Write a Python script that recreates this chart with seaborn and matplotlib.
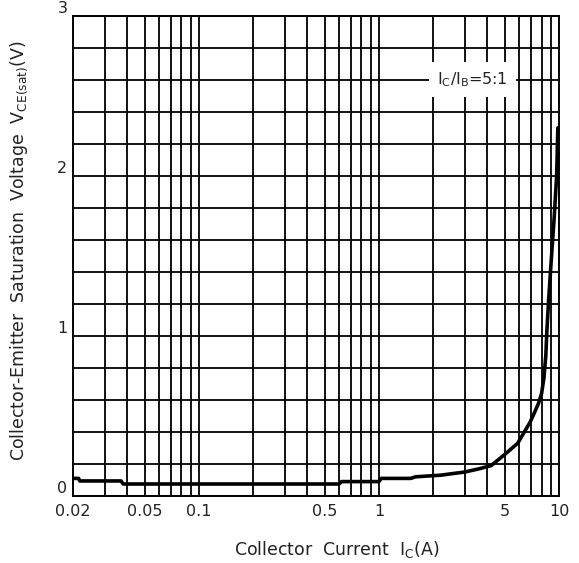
import seaborn as sns
import pandas as pd
import matplotlib.pyplot as plt
import numpy as np

# curve
ic_amp = [0.02, 0.0215, 0.0218, 0.037, 0.038, 0.6, 0.62, 1.0, 1.03, 1.5, 1.6,
          2.2, 3.0, 3.6, 4.2, 5.0, 5.9, 6.9, 7.3, 7.7, 8.0, 8.25, 8.45, 8.55,
          8.75, 9.05, 9.4, 9.7, 9.85]
vce_sat = [0.11, 0.11, 0.094, 0.094, 0.075, 0.075, 0.09, 0.09, 0.11, 0.11, 0.12,
           0.13, 0.15, 0.17, 0.19, 0.26, 0.33, 0.46, 0.52, 0.58, 0.64, 0.74, 0.88,
           1.02, 1.22, 1.47, 1.74, 2.0, 2.3]

x_grid = [0.02, 0.03, 0.04, 0.05, 0.06, 0.07, 0.08, 0.09,
          0.1, 0.2, 0.3, 0.4, 0.5, 0.6, 0.7, 0.8, 0.9,
          1, 2, 3, 4, 5, 6, 7, 8, 9, 10]
x_labels = {0.02: '0.02', 0.05: '0.05', 0.1: '0.1', 0.5: '0.5', 1: '1', 5: '5', 10: '10'}
y_grid = [round(0.2 * i, 1) for i in range(16)]
y_labels = {0.0: '0', 1.0: '1', 2.0: '2', 3.0: '3'}

sns.set_style('white')
plt.rcParams['font.family'] = ['DejaVu Sans']

df = pd.DataFrame({'Ic': ic_amp, 'Vce': vce_sat})

fig = plt.figure(figsize=(5.79, 5.63), dpi=100)
ax = fig.add_axes([0.126, 0.119, 0.8395, 0.853])

sns.lineplot(data=df, x='Ic', y='Vce', sort=False, estimator=None,
             color='black', linewidth=2.6, ax=ax, zorder=3)

ax.set_xscale('log')
ax.set_xlim(0.02, 10)
ax.set_ylim(0, 3)
ax.set_xticks(x_grid, [x_labels.get(v, '') for v in x_grid])
ax.set_yticks(y_grid, [y_labels.get(v, '') for v in y_grid])
ax.minorticks_off()
ax.tick_params(length=0, labelsize=11.5, colors='#222222')
ax.tick_params(axis='x', pad=6)
ax.tick_params(axis='y', pad=4)
for lab in ax.get_yticklabels():
    lab.set_va('bottom')
ax.grid(True, color='black', linewidth=1.3)
for s in ax.spines.values():
    s.set_color('black')
    s.set_linewidth(1.4)

ax.set_xlabel('Collector  Current  I$_\\mathrm{C}$(A)', fontsize=12.5, color='#222222')
ax.set_ylabel('Collector-Emitter  Saturation  Voltage  V$_\\mathrm{CE(sat)}$(V)',
              fontsize=12.5, color='#222222')
ax.xaxis.set_label_coords(0.543, -0.09)
ax.yaxis.set_label_coords(-0.088, 0.51)

ax.text(3.3, 2.6, 'I$_\\mathrm{C}$/I$_\\mathrm{B}$=5:1', fontsize=11.5, ha='center',
        va='center', zorder=4, color='#222222',
        bbox=dict(facecolor='white', edgecolor='none', pad=6))

fig.savefig('out.png', dpi=100)
